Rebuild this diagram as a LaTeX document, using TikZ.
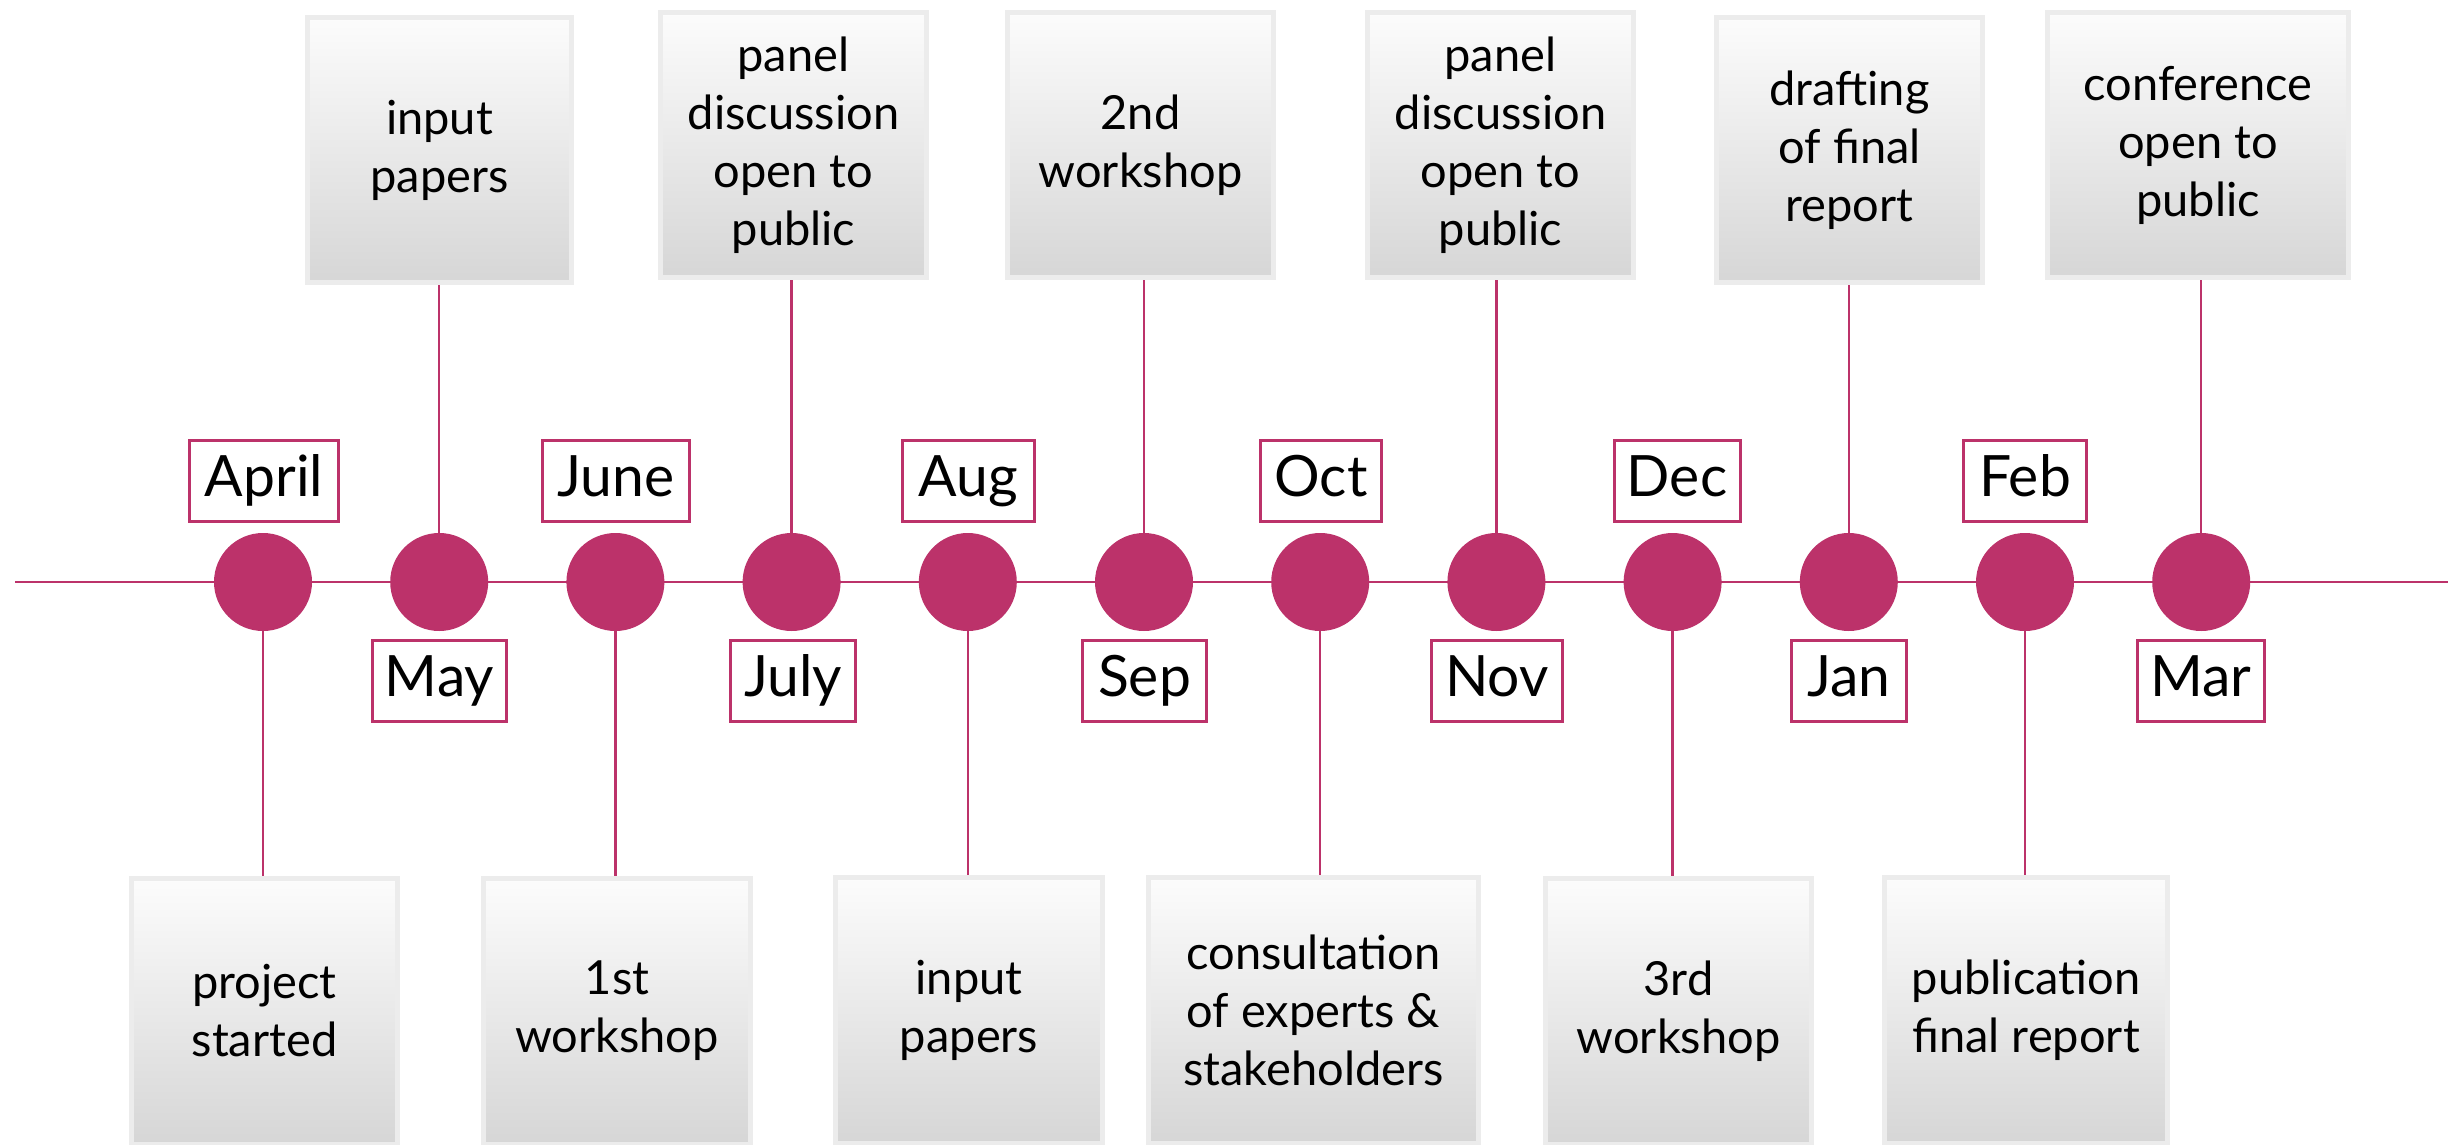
\documentclass[tikz,border=0pt]{standalone}
\usepackage{fontspec}
\setmainfont{Lato}
\definecolor{mag}{RGB}{188,50,106}
\definecolor{boxedge}{RGB}{236,236,236}
\definecolor{shadetop}{RGB}{252,252,252}
\definecolor{shadebot}{RGB}{214,214,214}
\begin{document}
\begin{tikzpicture}[x=1pt,y=-1pt,
  evbox/.style={draw=boxedge, line width=5pt, top color=shadetop, bottom color=shadebot,
    inner sep=0pt, align=center, font=\fontsize{47}{58}\selectfont},
  mbox/.style={draw=mag, line width=3pt, fill=white, inner sep=0pt,
    minimum height=81pt, text height=41pt, text depth=11pt, font=\fontsize{57}{68}\selectfont},
  mdot/.style={circle, fill=mag, minimum size=98pt, inner sep=0pt},
  link/.style={draw=mag, line width=2.5pt}]
\useasboundingbox (0,0) rectangle (2457,1145);

% timeline
\coordinate (tlL) at (15,582);
\coordinate (tlR) at (2448,582);
\draw[link] (tlL) -- (tlR);

% circles
\node[mdot] (c0)  at (263.0,582) {};
\node[mdot] (c1)  at (439.2,582) {};
\node[mdot] (c2)  at (615.4,582) {};
\node[mdot] (c3)  at (791.6,582) {};
\node[mdot] (c4)  at (967.8,582) {};
\node[mdot] (c5)  at (1144.0,582) {};
\node[mdot] (c6)  at (1320.2,582) {};
\node[mdot] (c7)  at (1496.4,582) {};
\node[mdot] (c8)  at (1672.6,582) {};
\node[mdot] (c9)  at (1848.8,582) {};
\node[mdot] (c10) at (2025.0,582) {};
\node[mdot] (c11) at (2201.2,582) {};

% month labels
\node[mbox, minimum width=149pt] (mApr) at (264,481) {April};
\node[mbox, minimum width=134pt] (mMay) at (439.5,681) {May};
\node[mbox, minimum width=147pt] (mJun) at (616,481) {June};
\node[mbox, minimum width=125pt] (mJul) at (793,681) {July};
\node[mbox, minimum width=132pt] (mAug) at (968.5,481) {Aug};
\node[mbox, minimum width=124pt] (mSep) at (1144.5,681) {Sep};
\node[mbox, minimum width=121pt] (mOct) at (1321,481) {Oct};
\node[mbox, minimum width=131pt] (mNov) at (1497,681) {Nov};
\node[mbox, minimum width=126pt] (mDec) at (1677,481) {Dec};
\node[mbox, minimum width=115pt] (mJan) at (1849,681) {Jan};
\node[mbox, minimum width=123pt] (mFeb) at (2025,481) {Feb};
\node[mbox, minimum width=127pt] (mMar) at (2201,681) {Mar};

% event boxes (top)
\node[evbox, minimum width=264pt, minimum height=265pt] (eMay) at (439.5,150) {input\\papers};
\node[evbox, minimum width=266pt, minimum height=265pt] (eJul) at (793.5,145) {panel\\discussion\\open to\\public};
\node[evbox, minimum width=266pt, minimum height=265pt] (eSep) at (1140.5,145) {2nd\\workshop};
\node[evbox, minimum width=266pt, minimum height=265pt] (eNov) at (1500.5,145) {panel\\discussion\\open to\\public};
\node[evbox, minimum width=266pt, minimum height=265pt] (eJan) at (1849.5,150) {drafting\\of final\\report};
\node[evbox, minimum width=301pt, minimum height=265pt] (eMar) at (2198,145) {conference\\open to\\public};

% event boxes (bottom)
\node[evbox, minimum width=266pt, minimum height=266pt] (eApr) at (264.5,1011) {project\\started};
\node[evbox, minimum width=267pt, minimum height=266pt] (eJun) at (617,1011) {1st\\workshop};
\node[evbox, minimum width=267pt, minimum height=266pt] (eAug) at (969,1010) {input\\papers};
\node[evbox, minimum width=330pt, minimum height=266pt] (eOct) at (1313.5,1010) {consultation\\of experts \&\\stakeholders};
\node[evbox, minimum width=266pt, minimum height=266pt] (eDec) at (1678.5,1011) {3rd\\workshop};
\node[evbox, minimum width=283pt, minimum height=266pt] (eFeb) at (2026,1010) {publication\\final report};

% connectors
\draw[link] (c1.north) -- (c1.north |- eMay.south);
\draw[link] (c3.north) -- (c3.north |- eJul.south);
\draw[link] (c5.north) -- (c5.north |- eSep.south);
\draw[link] (c7.north) -- (c7.north |- eNov.south);
\draw[link] (c9.north) -- (c9.north |- eJan.south);
\draw[link] (c11.north) -- (c11.north |- eMar.south);
\draw[link] (c0.south) -- (c0.south |- eApr.north);
\draw[link] (c2.south) -- (c2.south |- eJun.north);
\draw[link] (c4.south) -- (c4.south |- eAug.north);
\draw[link] (c6.south) -- (c6.south |- eOct.north);
\draw[link] (c8.south) -- (c8.south |- eDec.north);
\draw[link] (c10.south) -- (c10.south |- eFeb.north);
\end{tikzpicture}
\end{document}
